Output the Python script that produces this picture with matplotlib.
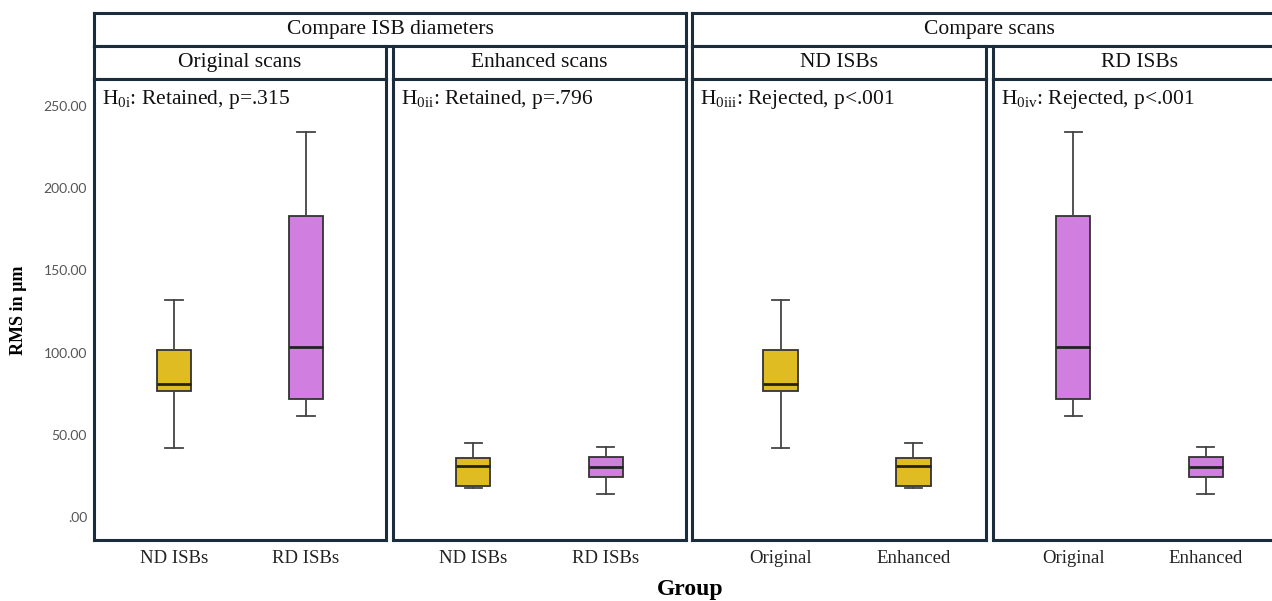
import matplotlib
matplotlib.use("Agg")
import matplotlib.pyplot as plt
from matplotlib.ticker import FuncFormatter

# five-number summaries: whislo, q1, median, q3, whishi
nd_original = [41.9, 76.4, 80.9, 101.8, 132.3]
rd_original = [61.6, 71.7, 103.4, 183.1, 234.0]
nd_enhanced = [17.5, 18.9, 31.1, 35.8, 45.1]
rd_enhanced = [14.0, 24.4, 30.3, 36.6, 42.3]

group_titles = ["Compare ISB diameters", "Compare scans"]
panel_titles = ["Original scans", "Enhanced scans", "ND ISBs", "RD ISBs"]
panel_notes = [r"H$_\mathrm{0i}$: Retained, p=.315",
               r"H$_\mathrm{0ii}$: Retained, p=.796",
               r"H$_\mathrm{0iii}$: Rejected, p<.001",
               r"H$_\mathrm{0iv}$: Rejected, p<.001"]
panel_ticks = [["ND ISBs", "RD ISBs"], ["ND ISBs", "RD ISBs"],
               ["Original", "Enhanced"], ["Original", "Enhanced"]]
panel_data = [[nd_original, rd_original], [nd_enhanced, rd_enhanced],
              [nd_original, nd_enhanced], [rd_original, rd_enhanced]]
panel_colors = [["#DFBC22", "#D07FE1"], ["#DFBC22", "#D07FE1"],
                ["#DFBC22", "#DFBC22"], ["#D07FE1", "#D07FE1"]]
y_ticks = [0, 50, 100, 150, 200, 250]

plt.rcParams['mathtext.fontset'] = 'custom'
plt.rcParams['mathtext.rm'] = 'Liberation Serif'
plt.rcParams['mathtext.it'] = 'Liberation Serif:italic'

W, H = 1272, 601
BORDER = "#1B2D3C"
fig = plt.figure(figsize=(W / 100, H / 100), dpi=100)


def box(x0, y0, x1, y1):
    # pixel box (top-left origin) -> figure axes
    ax = fig.add_axes([x0 / W, 1 - y1 / H, (x1 - x0) / W, (y1 - y0) / H])
    for s in ax.spines.values():
        s.set_color(BORDER)
        s.set_linewidth(2.2)
    return ax


def header(x0, y0, x1, y1, text):
    ax = box(x0, y0, x1, y1)
    ax.set_xticks([])
    ax.set_yticks([])
    ax.text(0.5, 0.5, text, transform=ax.transAxes, ha='center', va='center',
            family='Liberation Serif', fontsize=15.5, color='#111111')


panel_x = [(94, 386), (393, 686), (692, 986), (993, 1286)]
header(94, 13, 686, 46, group_titles[0])
header(692, 13, 1286, 46, group_titles[1])

for i, (x0, x1) in enumerate(panel_x):
    header(x0, 46, x1, 79, panel_titles[i])
    ax = box(x0, 79, x1, 540)
    stats = []
    for d, lab in zip(panel_data[i], panel_ticks[i]):
        stats.append(dict(whislo=d[0], q1=d[1], med=d[2], q3=d[3], whishi=d[4],
                          label=lab, fliers=[]))
    bp = ax.bxp(stats, positions=[1, 2], widths=0.26, patch_artist=True,
                showfliers=False,
                boxprops=dict(edgecolor='#333333', linewidth=1.3),
                whiskerprops=dict(color='#444444', linewidth=1.3),
                capprops=dict(color='#444444', linewidth=1.3),
                medianprops=dict(color='#222222', linewidth=2.0))
    for patch, c in zip(bp['boxes'], panel_colors[i]):
        patch.set_facecolor(c)
    shift = 0.06 if i == 2 else 0.0
    ax.set_xlim(0.394 - shift, 2.606 - shift)
    ax.set_ylim(-14, 266.5)
    ax.set_xticks([1, 2])
    ax.set_xticklabels(panel_ticks[i], family='Liberation Serif', fontsize=13.5,
                       color='#222222')
    ax.tick_params(axis='x', length=0, pad=7)
    ax.set_yticks(y_ticks)
    if i == 0:
        ax.yaxis.set_major_formatter(FuncFormatter(
            lambda v, p: (f"{v:.2f}" if v != 0 else ".00")))
        ax.tick_params(axis='y', length=0, pad=5, labelsize=10, labelcolor='#555555')
        for t in ax.get_yticklabels():
            t.set_family('Lato')
    else:
        ax.tick_params(axis='y', length=0, labelleft=False)
    ax.text(8 / (x1 - x0), 0.955, panel_notes[i], transform=ax.transAxes,
            ha='left', va='center', family='Liberation Serif', fontsize=15.5,
            color='#111111')

fig.text(19 / W, 1 - 310 / H, "RMS in µm", rotation=90, ha='center', va='center',
         family='Liberation Serif', fontweight='bold', fontsize=13)
fig.text(690 / W, 1 - 590 / H, "Group", ha='center', va='center',
         family='Liberation Serif', fontweight='bold', fontsize=17)

fig.savefig("out.png", dpi=100)
